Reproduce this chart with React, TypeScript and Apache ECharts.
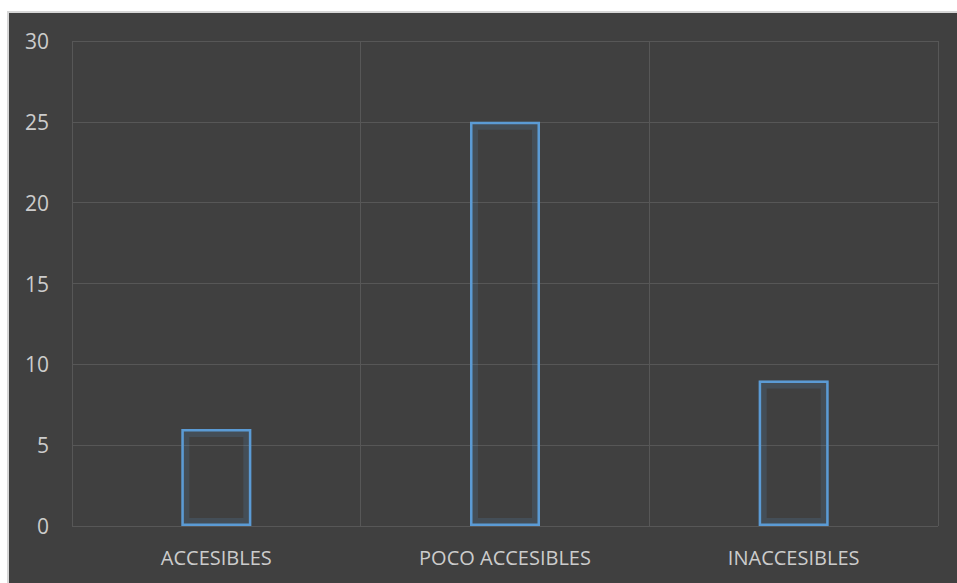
import React, { useEffect, useRef } from "react";
import * as echarts from "echarts";

const categories = ["ACCESIBLES", "POCO ACCESIBLES", "INACCESIBLES"];
const values = [6, 25, 9];
const yTicks = { min: 0, max: 30, interval: 5 };

export default function App() {
  const ref = useRef<HTMLDivElement>(null);
  useEffect(() => {
    document.body.style.margin = "0";
    const chart = echarts.init(ref.current!, null, { renderer: "svg" });
    chart.setOption({
      animation: false,
      backgroundColor: "#ffffff",
      graphic: [
        {
          type: "rect",
          z: -10,
          silent: true,
          shape: { x: 8, y: 12, width: 952, height: 575 },
          style: { fill: "#404040", stroke: "#d6d6d6", lineWidth: 2 },
        },
      ],
      grid: { left: 72, right: 19, top: 41, bottom: 57 },
      xAxis: {
        type: "category",
        data: categories,
        axisLine: { show: false },
        axisTick: { show: false },
        axisLabel: {
          color: "#cccccc",
          fontSize: 20,
          fontFamily: "Open Sans",
          margin: 21,
        },
        splitLine: { show: true, lineStyle: { color: "#575757", width: 1 } },
      },
      yAxis: {
        type: "value",
        min: yTicks.min,
        max: yTicks.max,
        interval: yTicks.interval,
        axisLine: { show: false },
        axisTick: { show: false },
        axisLabel: {
          color: "#cccccc",
          fontSize: 21,
          fontFamily: "Open Sans",
          margin: 23,
        },
        splitLine: { lineStyle: { color: "#575757", width: 1 } },
      },
      series: [
        {
          type: "bar",
          data: values,
          barWidth: 70,
          barGap: "-100%",
          silent: true,
          z: 1,
          itemStyle: {
            color: "rgba(0,0,0,0)",
            borderColor: "rgba(91,155,213,0.16)",
            borderWidth: 8,
          },
        },
        {
          type: "bar",
          data: values,
          barWidth: 70,
          barGap: "-100%",
          z: 3,
          itemStyle: {
            color: "rgba(0,0,0,0)",
            borderColor: "#5b9bd5",
            borderWidth: 2.5,
          },
        },
      ],
    });
    return () => chart.dispose();
  }, []);
  return <div ref={ref} style={{ width: 957, height: 583 }} />;
}
